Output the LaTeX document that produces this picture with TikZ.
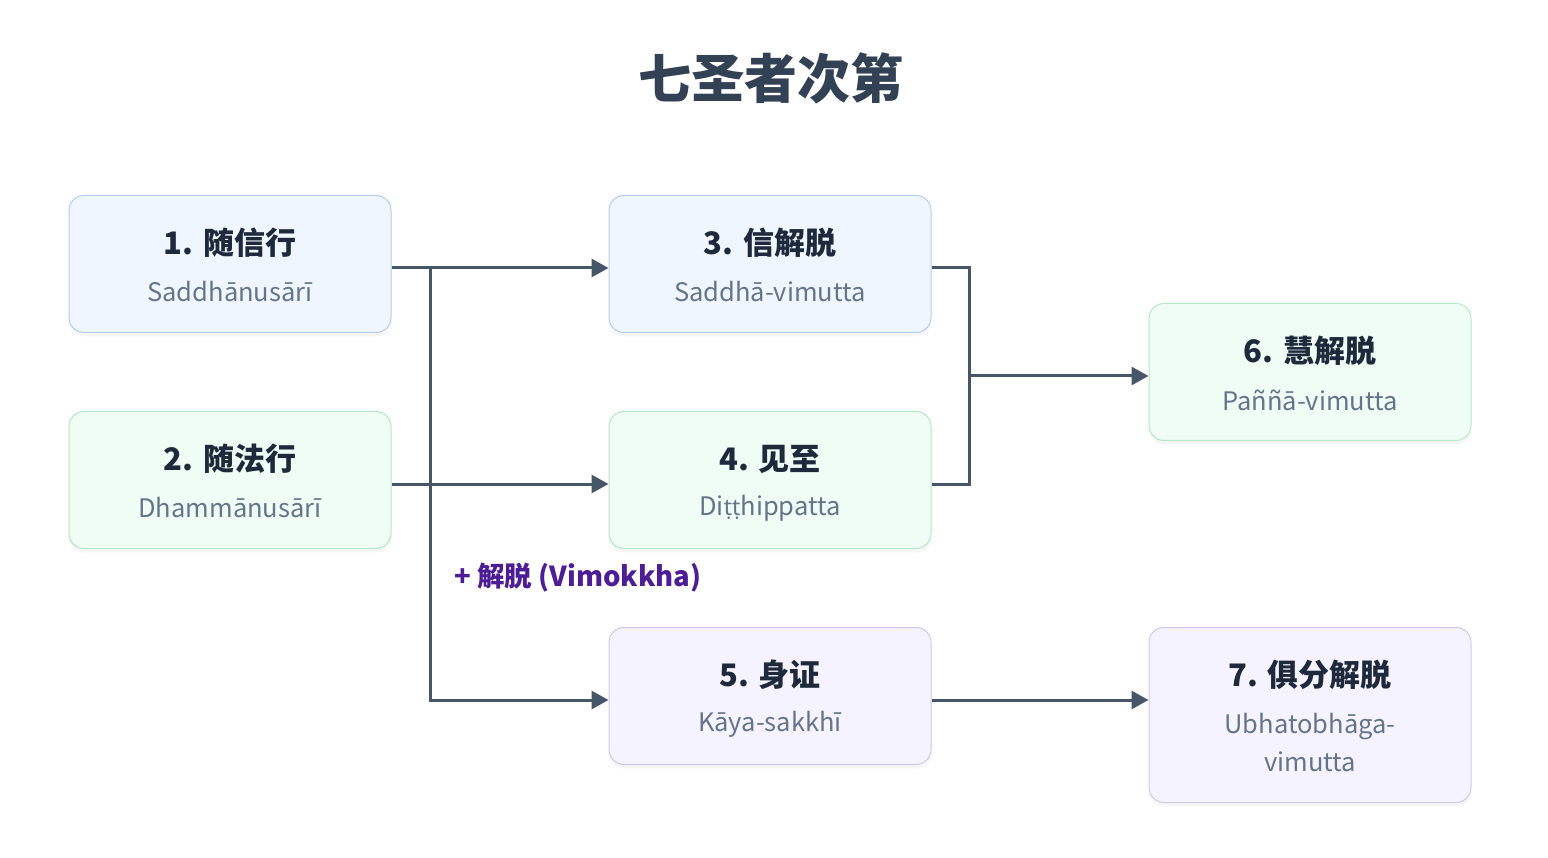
\documentclass[tikz,border=0pt]{standalone}
\usepackage{fontspec}
\setmainfont{Noto Sans CJK SC}
\newfontfamily\notosans{Noto Sans}
\usetikzlibrary{arrows.meta,shadows}
\definecolor{bluefill}{HTML}{EFF6FF}
\definecolor{blueline}{HTML}{B4CDF3}
\definecolor{greenfill}{HTML}{F0FDF4}
\definecolor{greenline}{HTML}{B5E8C4}
\definecolor{purplefill}{HTML}{F5F3FF}
\definecolor{purpleline}{HTML}{CFC8EE}
\definecolor{conncol}{HTML}{475569}
\definecolor{titlecol}{HTML}{334155}
\definecolor{maintext}{HTML}{1E293B}
\definecolor{subtext}{HTML}{64748B}
\definecolor{labelcol}{HTML}{4C1D95}
\newcommand{\tdot}{{\notosans\fontsize{23}{38}\selectfont ṭ}}
\tikzset{
  box/.style={rounded corners=15pt, minimum width=322pt, minimum height=137pt, inner sep=0pt, line width=1pt,
    drop shadow={opacity=0.07, shadow xshift=0pt, shadow yshift=-4pt}},
  bluebox/.style={box, fill=bluefill, draw=blueline},
  greenbox/.style={box, fill=greenfill, draw=greenline},
  purplebox/.style={box, fill=purplefill, draw=purpleline},
  ttl/.style={font=\bfseries\fontsize{31}{36}\selectfont, text=maintext, inner sep=0pt},
  sub/.style={font=\fontsize{25.5}{38}\selectfont, text=subtext, inner sep=0pt, align=center},
  line/.style={draw=conncol, line width=3pt},
  conn/.style={line, -{Triangle[length=17pt,width=18pt]}},
}
\begin{document}
\begin{tikzpicture}[x=1pt,y=-1pt]
\useasboundingbox[fill=white] (0,0) rectangle (1548,858);

\node[font=\bfseries\fontsize{53}{60}\selectfont, text=titlecol] (title) at (771,78) {七圣者次第};

\node[bluebox] (b1) at (230,264) {};
\node[greenbox] (b2) at (230,480) {};
\node[bluebox] (b3) at (770,264) {};
\node[greenbox] (b4) at (770,480) {};
\node[purplebox] (b5) at (770,696) {};
\node[greenbox] (b6) at (1310,372) {};
\node[purplebox, minimum height=175pt] (b7) at (1310,715) {};

\node[ttl] (t1) at (230,243) {1. 随信行};
\node[sub] (s1) at (230,292) {Saddhānusārī};
\node[ttl] (t2) at (230,459) {2. 随法行};
\node[sub] (s2) at (230,508) {Dhammānusārī};
\node[ttl] (t3) at (770,243) {3. 信解脱};
\node[sub] (s3) at (770,292) {Saddhā-vimutta};
\node[ttl] (t4) at (770,459) {4. 见至};
\node[sub] (s4) at (770,508) {Di\tdot\tdot hippatta};
\node[ttl] (t5) at (770,675) {5. 身证};
\node[sub] (s5) at (770,724) {Kāya-sakkhī};
\node[ttl] (t6) at (1310,351) {6. 慧解脱};
\node[sub] (s6) at (1310,400) {Paññā-vimutta};
\node[ttl] (t7) at (1310,675) {7. 俱分解脱};
\node[sub] (s7) at (1310,743) {Ubhatobhāga-\\vimutta};

\node[anchor=west, font=\bfseries\fontsize{27.5}{32}\selectfont, text=labelcol, inner sep=0pt] (lab) at (454,578) {+ 解脱 (Vimokkha)};

\coordinate (e1) at ([yshift=-4pt]b1.east);
\coordinate (e2) at ([yshift=-4pt]b2.east);
\coordinate (e3) at ([yshift=-4pt]b3.east);
\coordinate (e4) at ([yshift=-4pt]b4.east);
\coordinate (e5) at ([yshift=-4pt]b5.east);
\coordinate (w5) at ([yshift=-4pt]b5.west);
\coordinate (j1) at (430,268);
\coordinate (j2) at (969,376);

\draw[conn] (e1) -- ([yshift=-4pt]b3.west);
\draw[conn] (e2) -- ([yshift=-4pt]b4.west);
\draw[conn] (j1) |- (w5);
\draw[line] (e3) -| (j2) |- (e4);
\draw[conn] (j2) -- (j2 -| b6.west);
\draw[conn] (e5) -- (e5 -| b7.west);
\end{tikzpicture}
\end{document}
